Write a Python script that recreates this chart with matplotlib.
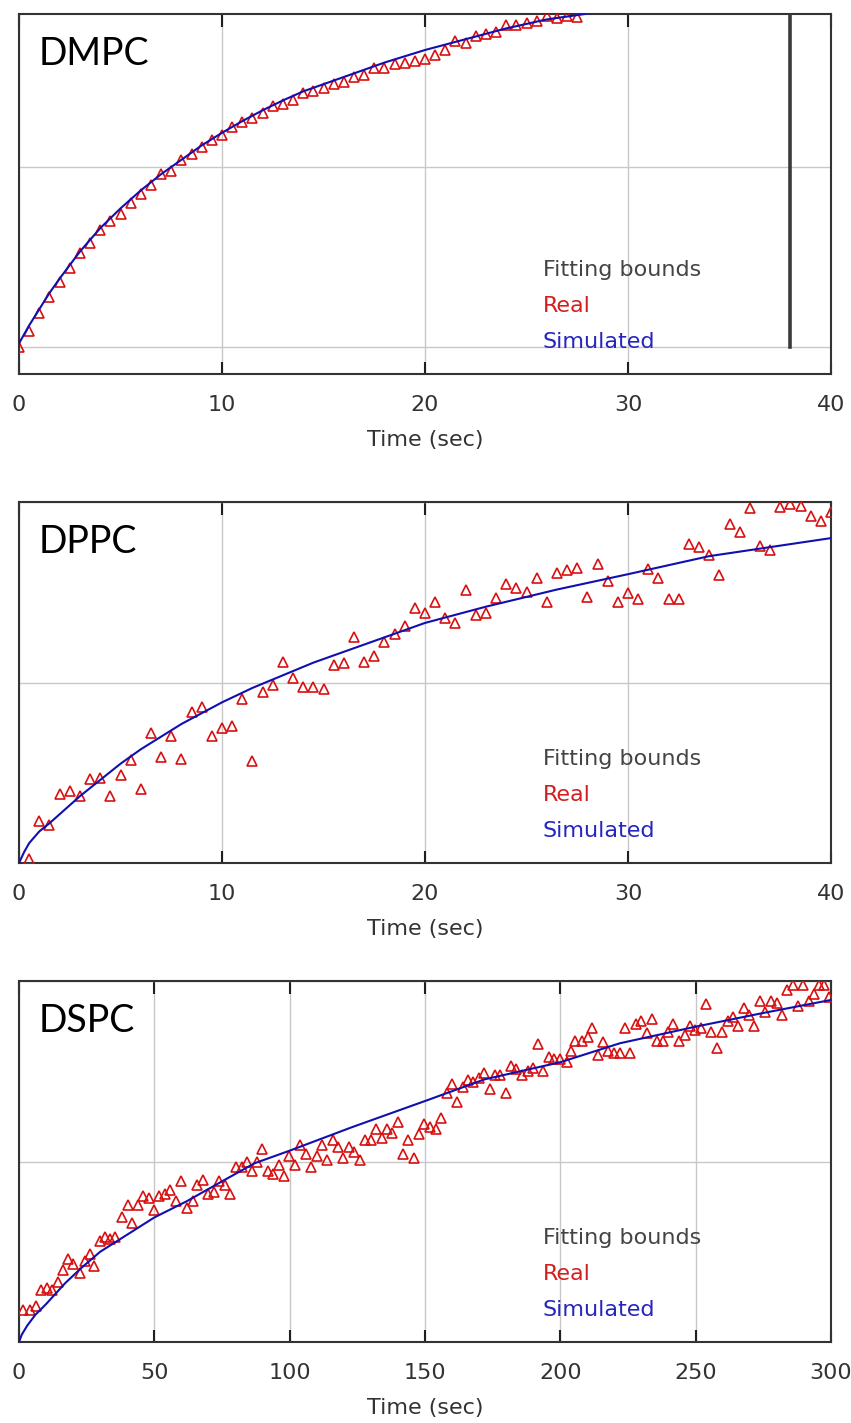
import matplotlib
matplotlib.use("Agg")
import matplotlib.pyplot as plt

# ---- DMPC (top) ----
dmpc_real_t = [0.0, 0.5, 1.0, 1.5, 2.0, 2.5, 3.0, 3.5, 4.0, 4.5, 5.0, 5.5, 6.0, 6.5,
               7.0, 7.5, 8.0, 8.5, 9.0, 9.5, 10.0, 10.5, 11.0, 11.5, 12.0, 12.5, 13.0,
               13.5, 14.0, 14.5, 15.0, 15.5, 16.0, 16.5, 17.0, 17.5, 18.0, 18.5, 19.0,
               19.5, 20.0, 20.5, 21.0, 21.5, 22.0, 22.5, 23.0, 23.5, 24.0, 24.5, 25.0,
               25.5, 26.0, 26.5, 27.0, 27.5]
dmpc_real_y = [0.0, 0.09, 0.19, 0.28, 0.36, 0.44, 0.52, 0.58, 0.65, 0.70, 0.74, 0.80,
               0.85, 0.90, 0.96, 0.98, 1.04, 1.07, 1.11, 1.15, 1.18, 1.22, 1.25, 1.27,
               1.30, 1.34, 1.35, 1.37, 1.41, 1.42, 1.44, 1.46, 1.47, 1.50, 1.51, 1.55,
               1.55, 1.57, 1.58, 1.59, 1.60, 1.62, 1.65, 1.70, 1.69, 1.73, 1.74, 1.75,
               1.79, 1.79, 1.80, 1.81, 1.84, 1.83, 1.84, 1.835]
dmpc_sim_t = [0.0, 0.5, 1.0, 1.5, 2.0, 2.5, 3.0, 4.0, 5.0, 6.0, 7.0, 8.0, 9.0, 10.0,
              11.0, 12.0, 13.0, 14.0, 15.0, 16.0, 17.0, 18.0, 20.0, 22.0, 24.0, 26.0, 28.5]
dmpc_sim_y = [0.02, 0.12, 0.21, 0.30, 0.38, 0.455, 0.53, 0.66, 0.77, 0.87, 0.96, 1.04,
              1.12, 1.19, 1.255, 1.315, 1.37, 1.42, 1.46, 1.50, 1.54, 1.58, 1.65, 1.71,
              1.77, 1.82, 1.86]
dmpc_bound = 38.0

# ---- DPPC (middle) ----
dppc_real_t = [0.5, 1.0, 1.5, 2.0, 2.5, 3.0, 3.5, 4.0, 4.5, 5.0, 5.5, 6.0, 6.5, 7.0,
               7.5, 8.0, 8.5, 9.0, 9.5, 10.0, 10.5, 11.0, 11.5, 12.0, 12.5, 13.0, 13.5,
               14.0, 14.5, 15.0, 15.5, 16.0, 16.5, 17.0, 17.5, 18.0, 18.5, 19.0, 19.5,
               20.0, 20.5, 21.0, 21.5, 22.0, 22.5, 23.0, 23.5, 24.0, 24.5, 25.0, 25.5,
               26.0, 26.5, 27.0, 27.5, 28.0, 28.5, 29.0, 29.5, 30.0, 30.5, 31.0, 31.5,
               32.0, 32.5, 33.0, 33.5, 34.0, 34.5, 35.0, 35.5, 36.0, 36.5, 37.0, 37.5,
               38.0, 38.5, 39.0, 39.5, 40.0]
dppc_real_y = [0.02, 0.23, 0.21, 0.38, 0.40, 0.37, 0.465, 0.47, 0.37, 0.49, 0.57, 0.41,
               0.72, 0.59, 0.705, 0.575, 0.835, 0.866, 0.705, 0.746, 0.76, 0.907, 0.565,
               0.946, 0.986, 1.115, 1.027, 0.975, 0.975, 0.966, 1.097, 1.106, 1.254,
               1.115, 1.147, 1.226, 1.267, 1.313, 1.411, 1.387, 1.444, 1.356, 1.328,
               1.512, 1.374, 1.387, 1.466, 1.544, 1.525, 1.503, 1.577, 1.448, 1.605,
               1.623, 1.636, 1.472, 1.655, 1.564, 1.444, 1.494, 1.463, 1.629, 1.577,
               1.461, 1.461, 1.766, 1.749, 1.706, 1.596, 1.876, 1.832, 1.965, 1.758,
               1.734, 1.974, 1.987, 1.98, 1.924, 1.895, 1.943]
dppc_sim_t = [0.0, 0.25, 0.5, 1.0, 1.5, 2.0, 3.0, 4.0, 5.0, 6.0, 7.0, 8.0, 9.0, 10.0,
              11.5, 13.0, 14.5, 16.5, 18.5, 20.0, 23.0, 26.5, 30.0, 34.0, 37.0, 40.0]
dppc_sim_y = [0.0, 0.06, 0.11, 0.175, 0.22, 0.27, 0.37, 0.46, 0.55, 0.63, 0.70, 0.77,
              0.83, 0.89, 0.97, 1.04, 1.11, 1.19, 1.27, 1.33, 1.42, 1.515, 1.60, 1.70,
              1.75, 1.80]

# ---- DSPC (bottom) ----
dspc_real_t = [1.6, 4.1, 6.2, 8.1, 10.2, 12.1, 14.3, 16.1, 18.0, 20.1, 22.5, 24.4, 26.2,
               27.8, 29.9, 31.8, 33.6, 35.5, 37.9, 40.1, 41.9, 44.1, 45.9, 48.2, 50.0,
               51.8, 53.9, 55.8, 58.0, 59.8, 61.9, 64.2, 65.9, 68.1, 69.9, 72.2, 73.9,
               76.1, 78.0, 80.0, 82.3, 84.1, 86.2, 88.1, 89.9, 92.1, 94.0, 96.2, 98.0,
               99.7, 102.0, 103.8, 105.9, 107.9, 110.0, 111.8, 113.9, 115.9, 117.7,
               119.8, 121.9, 123.9, 126.0, 127.8, 130.0, 131.8, 134.0, 135.8, 137.9,
               139.9, 142.0, 143.8, 146.0, 147.9, 149.7, 151.8, 153.9, 155.9, 158.0,
               159.8, 161.9, 163.9, 166.0, 167.8, 170.0, 171.9, 173.9, 175.8, 177.7,
               179.8, 181.8, 183.8, 185.9, 187.9, 190.0, 191.8, 193.7, 195.8, 197.7,
               199.8, 202.3, 203.9, 205.6, 208.1, 210.1, 211.8, 213.8, 215.9, 217.7,
               219.9, 222.0, 223.9, 225.7, 227.8, 229.8, 231.9, 234.0, 235.8, 238.0,
               239.9, 241.7, 243.8, 246.0, 247.9, 249.7, 251.9, 253.7, 255.6, 257.7,
               259.8, 261.8, 263.9, 265.7, 267.8, 269.8, 271.6, 273.7, 275.8, 277.8,
               279.9, 282.0, 283.8, 285.8, 287.9, 289.7, 291.8, 293.8, 295.6, 297.5,
               299.2]
dspc_real_y = [0.18, 0.18, 0.20, 0.29, 0.30, 0.29, 0.33, 0.40, 0.46, 0.43, 0.38, 0.45,
               0.49, 0.42, 0.56, 0.58, 0.57, 0.58, 0.69, 0.76, 0.66, 0.76, 0.81, 0.80,
               0.73, 0.81, 0.82, 0.84, 0.78, 0.89, 0.74, 0.78, 0.87, 0.90, 0.82, 0.83,
               0.89, 0.87, 0.82, 0.97, 0.97, 1.00, 0.95, 1.00, 1.07, 0.95, 0.93, 0.98,
               0.92, 1.03, 0.98, 1.09, 1.04, 0.97, 1.03, 1.09, 1.01, 1.12, 1.08, 1.02,
               1.08, 1.05, 1.01, 1.12, 1.12, 1.18, 1.13, 1.18, 1.16, 1.22, 1.04, 1.12,
               1.02, 1.15, 1.21, 1.19, 1.18, 1.24, 1.38, 1.43, 1.33, 1.41, 1.45, 1.44,
               1.46, 1.49, 1.40, 1.48, 1.48, 1.38, 1.53, 1.51, 1.48, 1.50, 1.52, 1.65,
               1.50, 1.58, 1.57, 1.57, 1.55, 1.61, 1.67, 1.67, 1.69, 1.74, 1.59, 1.66,
               1.61, 1.60, 1.60, 1.74, 1.60, 1.76, 1.78, 1.71, 1.79, 1.67, 1.67, 1.72,
               1.76, 1.67, 1.70, 1.75, 1.73, 1.74, 1.87, 1.72, 1.63, 1.72, 1.78, 1.80,
               1.75, 1.85, 1.81, 1.75, 1.89, 1.83, 1.89, 1.88, 1.81, 1.95, 1.98, 1.86,
               1.98, 1.89, 1.93, 1.98, 1.98, 1.91]
dspc_sim_t = [0, 1, 3, 6, 10, 17, 23, 30, 40, 50, 62, 75, 87, 100, 123, 150, 172, 200,
              222, 250, 274, 300]
dspc_sim_y = [0.0, 0.04, 0.09, 0.15, 0.21, 0.325, 0.41, 0.50, 0.595, 0.69, 0.78, 0.89,
              0.99, 1.06, 1.19, 1.335, 1.455, 1.55, 1.655, 1.747, 1.82, 1.895]

panels = [
    ("DMPC", dmpc_real_t, dmpc_real_y, dmpc_sim_t, dmpc_sim_y, [0, 10, 20, 30, 40], (-0.15, 1.85), [0, 1]),
    ("DPPC", dppc_real_t, dppc_real_y, dppc_sim_t, dppc_sim_y, [0, 10, 20, 30, 40], (0, 2), [0, 1, 2]),
    ("DSPC", dspc_real_t, dspc_real_y, dspc_sim_t, dspc_sim_y, [0, 50, 100, 150, 200, 250, 300], (0, 2), [0, 1, 2]),
]

W, H = 851, 1423
# axes boxes in pixels: top, bottom
boxes = [(14, 374), (502, 863), (981, 1342)]
left_px, right_px = 19, 831

fig = plt.figure(figsize=(W / 100, H / 100), dpi=100)

for (name, rt, ry, st, sy, xt, ylim, yt), (top, bot) in zip(panels, boxes):
    ax = fig.add_axes([left_px / W, 1 - bot / H, (right_px - left_px) / W, (bot - top) / H])
    ax.plot(rt, ry, ls='', marker='^', ms=7, mfc='none', mec='#d81010', mew=1.2, zorder=3)
    ax.plot(st, sy, color='#1010b0', lw=1.5, zorder=4)
    if name == "DMPC":
        ax.plot([dmpc_bound, dmpc_bound], [0, ylim[1]], color='#3a3a3a', lw=2.6, zorder=5)

    ax.set_xlim(xt[0], xt[-1])
    ax.set_ylim(*ylim)
    ax.set_xticks(xt)
    ax.set_yticks(yt)
    ax.set_yticklabels([])
    ax.grid(True, color='#c8c8c8', lw=1.0)
    ax.set_axisbelow(True)
    ax.tick_params(axis='x', direction='in', top=True, bottom=True, length=9, width=1.5,
                   color='#202020', pad=15, labelsize=16, labelcolor='#333333')
    ax.tick_params(axis='y', length=0)
    for s in ax.spines.values():
        s.set_color('#333333')
        s.set_linewidth(1.5)
    ax.set_xlabel("Time (sec)", fontsize=16, color='#333333', labelpad=11)

    ax.text(0.024, 0.858, name, transform=ax.transAxes, fontsize=27, family='Lato',
            color='black', va='baseline', ha='left')
    ax.text(0.645, 0.272, "Fitting bounds", transform=ax.transAxes, fontsize=16,
            color='#444444', va='baseline', zorder=6)
    ax.text(0.645, 0.172, "Real", transform=ax.transAxes, fontsize=16,
            color='#d02020', va='baseline', zorder=6)
    ax.text(0.645, 0.072, "Simulated", transform=ax.transAxes, fontsize=16,
            color='#2525c0', va='baseline', zorder=6)

fig.savefig("out.png", dpi=100)
